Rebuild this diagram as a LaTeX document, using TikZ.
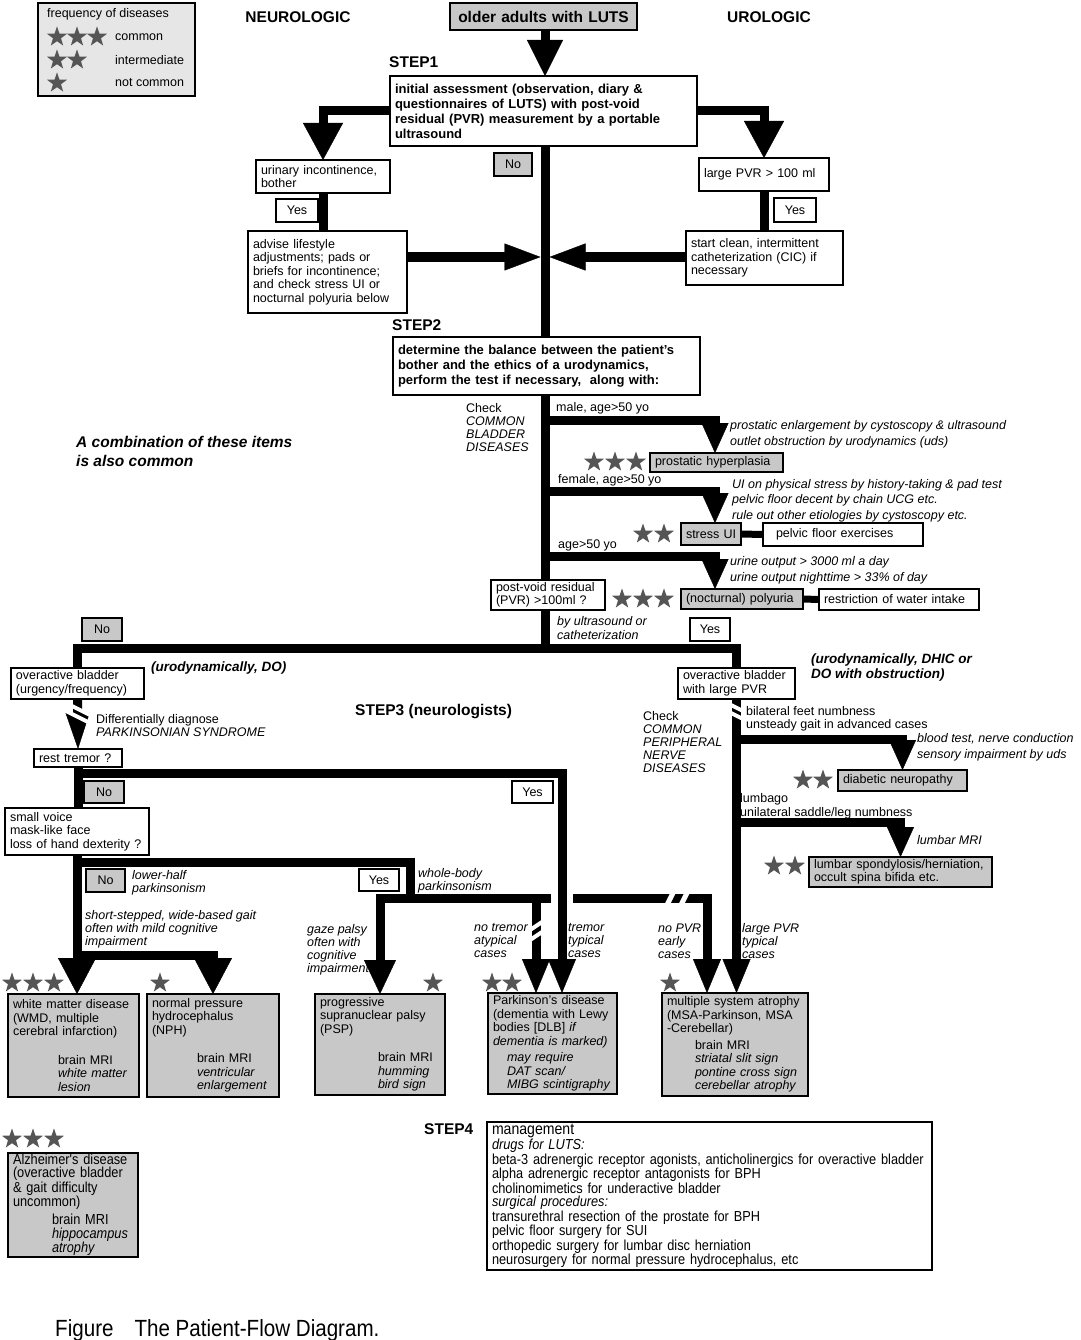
\documentclass[tikz,border=0pt]{standalone}
\usepackage{fontspec}
\setmainfont{Liberation Sans}
\newfontfamily\condfont{Liberation Sans}[FakeStretch=0.88]
\usetikzlibrary{arrows.meta,shapes.geometric}
\pgfdeclarelayer{bg}
\pgfsetlayers{bg,main}
\definecolor{boxgray}{HTML}{C8C8C8}
\definecolor{leggray}{HTML}{E6E6E6}
\definecolor{stargray}{HTML}{555555}
\newcommand\fsA{\fontsize{12.5}{13.5}\selectfont}
\newcommand\fsB{\fontsize{13}{15}\selectfont\bfseries}
\newcommand\fsH{\fontsize{15.5}{18}\selectfont\bfseries}
\newcommand\fsI{\fontsize{12.5}{15.5}\selectfont\itshape}
\newcommand\fsJ{\fontsize{12.5}{13}\selectfont\itshape}
\newcommand\fsBI{\fontsize{13.5}{15}\selectfont\bfseries\itshape}
\newcommand\fsC{\condfont\fontsize{14.5}{13.4}\selectfont}
\newcommand\bx[7]{%
  \pgfmathsetmacro\bxw{#4-#2}%
  \pgfmathsetmacro\bxh{#5-#3}%
  \pgfmathsetmacro\bxt{#4-#2-10}%
  \node[boxbase,minimum width=\bxw pt,minimum height=\bxh pt,text width=\bxt pt,#6] (#1) at (#2,#3) {#7};}
\tikzset{
  boxbase/.style={draw,line width=1.6pt,fill=white,inner xsep=5pt,inner ysep=1pt,
    outer sep=0pt,align=left,anchor=north west,font=\fsA},
  gbox/.style={fill=boxgray},
  ctr/.style={align=center},
  conn/.style={line width=9pt},
  sconn/.style={line width=7pt},
  tipTop/.style={-{Triangle[width=36pt,length=36pt,line width=0.4pt]}},
  tipBr/.style={-{Triangle[width=40pt,length=37pt,line width=0.4pt]}},
  tipH/.style={-{Triangle[width=27pt,length=36pt,line width=0.4pt]}},
  tipMid/.style={-{Triangle[width=27pt,length=30pt,line width=0.4pt]}},
  tipBrk/.style={-{Triangle[width=24pt,length=36pt,line width=0.4pt]}},
  tipBig/.style={-{Triangle[width=38pt,length=36pt,line width=0.4pt]}},
  tipDn/.style={-{Triangle[width=32pt,length=34pt,line width=0.4pt]}},
  tipPair/.style={-{Triangle[width=28pt,length=34pt,line width=0.4pt]}},
  txt/.style={anchor=west,inner sep=0pt,align=left,font=\fsA},
  starnode/.style={star,star points=5,star point ratio=2.5,fill=stargray,inner sep=0pt,minimum size=21pt},
  brkw/.style={white,line width=4pt},
  gapw/.style={white,line width=22pt},
}
\begin{document}
\begin{tikzpicture}[x=1pt,y=-1pt]
\useasboundingbox (0,0) rectangle (1080,1340);
% ---------- coordinates
\coordinate (mx) at (545,0);
\coordinate (jL) at (540.5,257);
\coordinate (jR) at (549.5,257);
\coordinate (jBot) at (545,648);
\coordinate (bMale) at (545,420);
\coordinate (bFem) at (545,491);
\coordinate (bAge) at (545,556);
\coordinate (xArr) at (715,0);
\coordinate (bRest) at (78,773);
\coordinate (bSv) at (77,862);
\coordinate (bNph) at (77,955);
\coordinate (hbJ) at (410,898);
\coordinate (hbPdL) at (536,898);
\coordinate (xPdR) at (562,0);
\coordinate (xMsaL) at (707,0);
\coordinate (bDn) at (736.5,739);
\coordinate (bLs) at (736.5,822);
% ---------- boxes
\bx{legend}{38}{3}{195}{96}{fill=leggray}{}
\bx{older}{450}{3}{637}{30}{gbox,ctr,font=\fsH}{older adults with LUTS}
\bx{init}{390}{76}{697}{146}{font=\fsB}{initial assessment (observation, diary \&\\questionnaires of LUTS) with post-void\\residual (PVR) measurement by a portable\\ultrasound}
\bx{no1}{494}{153}{532}{176}{gbox,ctr}{No}
\bx{uinc}{256}{160}{390}{193}{}{urinary incontinence,\\bother}
\bx{yes1}{276}{199}{318}{222}{ctr}{Yes}
\bx{pvr}{699}{158}{829}{191}{}{large PVR > 100 ml}
\bx{yes2}{774}{198}{816}{222}{ctr}{Yes}
\bx{advise}{248}{231}{407}{313}{}{advise lifestyle\\adjustments; pads or\\briefs for incontinence;\\and check stress UI or\\nocturnal polyuria below}
\bx{cic}{686}{231}{843}{285}{}{start clean, intermittent\\catheterization (CIC) if\\necessary}
\bx{step2}{393}{337}{700}{395}{font=\fsB}{determine the balance between the patient’s\\bother and the ethics of a urodynamics,\\perform the test if necessary,\ \ along with:}
\bx{ph}{650}{453}{783}{472}{gbox,inner ysep=0pt}{\mbox{prostatic hyperplasia}}
\bx{sui}{681}{523}{741}{545}{gbox}{\mbox{stress UI}}
\bx{pfe}{763}{523}{923}{546}{}{\hspace*{8pt}pelvic floor exercises}
\bx{pv}{491}{580}{605}{610}{}{post-void residual\\(PVR) >100ml ?}
\bx{poly}{681}{589}{803}{609}{gbox,inner ysep=0pt}{\mbox{(nocturnal) polyuria}}
\bx{water}{819}{589}{979}{610}{inner ysep=0pt}{\mbox{restriction of water intake}}
\bx{yes3}{690}{618}{730}{641}{ctr}{Yes}
\bx{no2}{82}{618}{122}{641}{gbox,ctr}{No}
\bx{oab1}{11}{668}{144}{699}{}{overactive bladder\\(urgency/frequency)}
\bx{oab2}{678}{668}{795}{699}{}{overactive bladder\\with large PVR}
\bx{rest}{34}{749}{122}{767}{inner ysep=0pt}{\mbox{rest tremor ?}}
\bx{no3}{84}{781}{124}{803}{gbox,ctr}{No}
\bx{yes4}{512}{781}{553}{803}{ctr}{Yes}
\bx{sv}{5}{808}{149}{855}{}{small voice\\mask-like face\\loss of hand dexterity ?}
\bx{dn}{838}{770}{967}{791}{gbox,inner ysep=0pt}{\mbox{diabetic neuropathy}}
\bx{ls}{809}{857}{992}{887}{gbox}{lumbar spondylosis/herniation,\\occult spina bifida etc.}
\bx{no4}{86}{869}{125}{892}{gbox,ctr}{No}
\bx{yes5}{359}{869}{399}{891}{ctr}{Yes}
\bx{wm}{8}{994}{139}{1097}{gbox}{white matter disease\\(WMD, multiple\\cerebral infarction)\\[15pt]\hspace*{45pt}brain MRI\\\hspace*{45pt}\textit{white matter}\\\hspace*{45pt}\textit{lesion}}
\bx{nph}{147}{994}{279}{1097}{gbox}{normal pressure\\hydrocephalus\\(NPH)\\[15pt]\hspace*{45pt}brain MRI\\\hspace*{45pt}\textit{ventricular}\\\hspace*{45pt}\textit{enlargement}}
\bx{psp}{315}{994}{445}{1095}{gbox}{progressive\\supranuclear palsy\\(PSP)\\[15pt]\hspace*{58pt}brain MRI\\\hspace*{58pt}\textit{humming}\\\hspace*{58pt}\textit{bird sign}}
\bx{pd}{488}{993}{617}{1094}{gbox}{Parkinson's disease\\(dementia with Lewy\\bodies [DLB] \textit{if}\\\textit{dementia is marked)}\\[3pt]\hspace*{14pt}\textit{may require}\\\hspace*{14pt}\textit{DAT scan/}\\\hspace*{14pt}\textit{MIBG scintigraphy}}
\bx{msa}{662}{993}{808}{1096}{gbox}{multiple system atrophy\\(MSA-Parkinson, MSA\\-Cerebellar)\\[3pt]\hspace*{28pt}brain MRI\\\hspace*{28pt}\textit{striatal slit sign}\\\hspace*{28pt}\textit{pontine cross sign}\\\hspace*{28pt}\textit{cerebellar atrophy}}
\bx{alz}{8}{1153}{138}{1254}{gbox,font=\fsC}{Alzheimer's disease\\(overactive bladder\\\& gait difficulty\\uncommon)\\[3.5pt]\hspace*{39pt}brain MRI\\\hspace*{39pt}\textit{hippocampus}\\\hspace*{39pt}\textit{atrophy}}
\bx{mgmt}{487}{1122}{932}{1270}{font=\fsC}{{\fontsize{16}{13.4}\selectfont management}\\\textit{drugs for LUTS:}\\beta-3 adrenergic receptor agonists, anticholinergics for overactive bladder\\alpha adrenergic receptor antagonists for BPH\\cholinomimetics for underactive bladder\\\textit{surgical procedures:}\\transurethral resection of the prostate for BPH\\pelvic floor surgery for SUI\\orthopedic surgery for lumbar disc herniation\\neurosurgery for normal pressure hydrocephalus, etc}
% ---------- stars
\foreach \i/\sx/\sy in {1/57/37,2/77/37,3/97/37,4/57/60,5/77/60,6/57/83,
  7/594/462,8/615/462,9/636/462,10/643/534,11/664/534,
  12/622/599,13/643/599,14/664/599,15/803/780,16/823/780,
  17/774/866,18/795/866,19/12/983,20/33/983,21/54/983,
  22/160/983,23/433/983,24/492/983,25/512/983,26/670/983,
  27/12/1139,28/33/1139,29/54/1139}
  \node[starnode] (st\i) at (\sx,\sy) {};
% ---------- texts
\node[txt] (lg0) at (47,14) {frequency of diseases};
\node[txt] (lg1) at (115,37) {common};
\node[txt] (lg2) at (115,60) {intermediate};
\node[txt] (lg3) at (115,83) {not common};
\node[txt,font=\fsH,anchor=center] (neuro) at (298,17) {NEUROLOGIC};
\node[txt,font=\fsH,anchor=center] (uro) at (769,17) {UROLOGIC};
\node[txt,font=\fsH] (s1lab) at (389,62) {STEP1};
\node[txt,font=\fsH] (s2lab) at (392,325) {STEP2};
\node[txt,font=\fsH] (s3lab) at (355,712) {STEP3 (neurologists)};
\node[txt,font=\fsH] (s4lab) at (424,1129) {STEP4};
\node[txt,font=\fontsize{15.5}{19}\selectfont\bfseries\itshape] (combo) at (76,451.5) {A combination of these items\\is also common};
\node[txt,font=\fontsize{12.5}{13}\selectfont] (chk1) at (466,427.5) {Check\\\textit{COMMON}\\\textit{BLADDER}\\\textit{DISEASES}};
\node[txt] (male) at (556,408) {male, age>50 yo};
\node[txt,font=\fsI] (phnote) at (730,434.5) {prostatic enlargement by cystoscopy \& ultrasound\\outlet obstruction by urodynamics (uds)};
\node[txt] (fem) at (558,480) {female, age>50 yo};
\node[txt,font=\fsI] (suinote) at (732,500.5) {UI on physical stress by history-taking \& pad test\\pelvic floor decent by chain UCG etc.\\rule out other etiologies by cystoscopy etc.};
\node[txt] (agelab) at (558,545) {age>50 yo};
\node[txt,font=\fsI] (polynote) at (730,570.5) {urine output > 3000 ml a day\\urine output nighttime > 33\% of day};
\node[txt,font=\fontsize{12.5}{14}\selectfont\itshape] (pvnote) at (557,628) {by ultrasound or\\catheterization};
\node[txt,font=\fsBI] (udo) at (151,668) {(urodynamically, DO)};
\node[txt,font=\fsBI] (udhic) at (811,667.5) {(urodynamically, DHIC or\\DO with obstruction)};
\node[txt] (diff) at (96,725.5) {Differentially diagnose\\\textit{PARKINSONIAN SYNDROME}};
\node[txt,font=\fontsize{12.5}{13}\selectfont] (chk2) at (643,742) {Check\\\textit{COMMON}\\\textit{PERIPHERAL}\\\textit{NERVE}\\\textit{DISEASES}};
\node[txt,font=\fontsize{12.5}{13}\selectfont] (bil) at (746,718.5) {bilateral feet numbness\\unsteady gait in advanced cases};
\node[txt,font=\fontsize{12.5}{16}\selectfont\itshape] (blood) at (917,747) {blood test, nerve conduction\\sensory impairment by uds};
\node[txt,font=\fontsize{12.5}{14}\selectfont] (lumb) at (740,806) {lumbago\\unilateral saddle/leg numbness};
\node[txt,font=\fsI] (lmri) at (917,840) {lumbar MRI};
\node[txt,font=\fsJ] (lowh) at (132,882.5) {lower-half\\parkinsonism};
\node[txt,font=\fsJ] (wholeb) at (418,880.5) {whole-body\\parkinsonism};
\node[txt,font=\fsJ] (gait) at (85,929) {short-stepped, wide-based gait\\often with mild cognitive\\impairment};
\node[txt,font=\condfont\fontsize{23.4}{26}\selectfont] (cap) at (55,1330) {Figure\hspace{21pt}The Patient-Flow Diagram.};
% ---------- connectors (background layer)
\begin{pgfonlayer}{bg}
\fill[white] (0,0) rectangle (1080,1340);
\node[txt,font=\fsJ] (gaze) at (307,949.5) {gaze palsy\\often with\\cognitive\\impairment};
\node[txt,font=\fsJ] (notr) at (474,941) {no tremor\\atypical\\cases};
\node[txt,font=\fsJ] (tr) at (568,941) {tremor\\typical\\cases};
\node[txt,font=\fsJ] (nopvr) at (658,941) {no PVR\\early\\cases};
\node[txt,font=\fsJ] (lpvr) at (742,941) {large PVR\\typical\\cases};
% step 1
\draw[conn,tipTop] (older.south -| mx) -- (init.north -| mx);
\draw[conn] (init.south -| mx) -- (jBot);
\draw[conn,tipBr] (init.west) -| (uinc.north);
\draw[conn,tipBr] (init.east) -| (pvr.north);
\draw[conn] (uinc.south) -- (uinc.south |- advise.north);
\draw[conn] (pvr.south) -- (pvr.south |- cic.north);
\draw[conn,tipH] (advise.east |- jL) -- (jL);
\draw[conn,tipH] (cic.west |- jR) -- (jR);
% step 2
\draw[conn,tipMid] (bMale) -| (ph.north -| xArr);
\draw[conn,tipMid] (bFem) -| (sui.north -| xArr);
\draw[conn,tipMid] (bAge) -| (poly.north -| xArr);
\draw[sconn] (sui.east) -- (pfe.west);
\draw[sconn] (poly.east) -- (water.west);
\draw[conn] (jBot) -| (oab1.north);
\draw[conn] (jBot) -| (oab2.north);
% step 3 left
\draw[conn,tipBrk] (oab1.south) -- (rest.north);
\draw[brkw] (64,702) -- (92,716);
\draw[brkw] (64,710) -- (92,724);
\draw[conn] (rest.south) -- (rest.south |- sv.north);
\draw[conn,tipBig] (sv.south) -- (sv.south |- wm.north);
\draw[conn,tipBig] (bNph) -| (nph.north);
\draw[conn] (bSv) -| (hbJ);
\draw[conn,tipDn] (hbJ) -| (psp.north);
\draw[conn,tipPair] (hbJ) -| (msa.north -| xMsaL);
\draw[conn,tipPair] (hbPdL) -- (pd.north -| hbPdL);
\draw[brkw] (527,932) -- (545,920);
\draw[brkw] (527,942) -- (545,930);
\draw[white,line width=5pt] (666,907) -- (675,889);
\draw[white,line width=5pt] (680,907) -- (689,889);
\draw[gapw] (562,887) -- (562,909);
\draw[conn,tipPair] (bRest) -| (pd.north -| xPdR);
% step 3 right
\draw[conn,tipPair] (oab2.south) -- (oab2.south |- msa.north);
\draw[brkw] (727,703) -- (746,712.5);
\draw[brkw] (727,711) -- (746,720.5);
\draw[conn,tipMid] (bDn) -| (dn.north);
\draw[conn,tipMid] (bLs) -| (ls.north);
\end{pgfonlayer}
\end{tikzpicture}
\end{document}
